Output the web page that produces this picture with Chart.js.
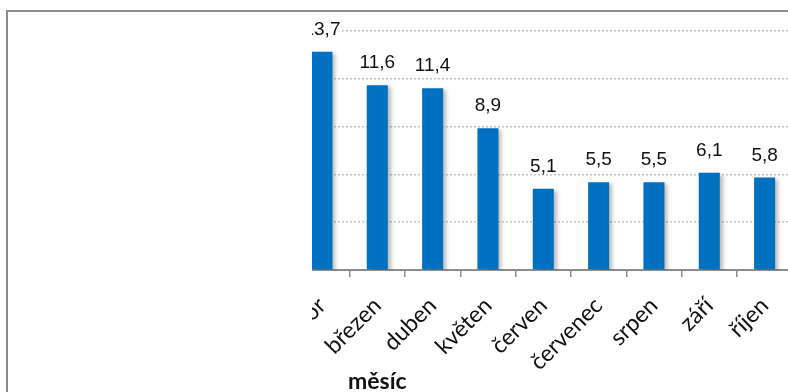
<!DOCTYPE html>
<html>
<head>
<meta charset="utf-8">
<script src="https://cdn.jsdelivr.net/npm/chart.js@4"></script>
<style>
  html, body { margin: 0; padding: 0; background: #fff; }
  body { width: 788px; height: 392px; overflow: hidden; position: relative; }
  #frame {
    position: absolute; left: 6px; top: 10px; width: 900px; height: 500px;
    border-left: 2px solid #8c8c8c; border-top: 2px solid #8c8c8c;
  }
  #clip { position: absolute; left: 312px; top: 12px; width: 476px; height: 380px; overflow: hidden; }
  #inner { position: absolute; top: 0; left: -18px; width: 700px; height: 380px; }
</style>
</head>
<body>
<div id="frame"></div>
<div id="clip"><div id="inner"><canvas id="chart" width="500" height="380"></canvas></div></div>
<script>
// months shown in the chart and their values
const months = ["únor", "březen", "duben", "květen", "červen", "červenec", "srpen", "září", "říjen"];
const values = [13.7, 11.6, 11.4, 8.9, 5.1, 5.5, 5.5, 6.1, 5.8];
const yTicks = [0, 3, 6, 9, 12, 15];
const axisTitle = "měsíc";

// soft shadow behind the bars, like the office chart
const barShadow = {
  id: "barShadow",
  beforeDatasetDraw(chart) {
    const ctx = chart.ctx;
    ctx.save();
    ctx.shadowColor = "rgba(0,0,0,0.28)";
    ctx.shadowBlur = 4;
    ctx.shadowOffsetX = 3;
    ctx.shadowOffsetY = 2;
  },
  afterDatasetDraw(chart) {
    chart.ctx.restore();
  }
};

// value labels above each bar, with decimal comma
const valueLabels = {
  id: "valueLabels",
  afterDatasetsDraw(chart) {
    const ctx = chart.ctx;
    const meta = chart.getDatasetMeta(0);
    ctx.save();
    ctx.font = "19px 'Liberation Sans', Arial, sans-serif";
    ctx.textAlign = "center";
    ctx.textBaseline = "alphabetic";
    meta.data.forEach((bar, i) => {
      const text = values[i].toFixed(1).replace(".", ",");
      const w = ctx.measureText(text).width;
      ctx.fillStyle = "#fff";
      ctx.fillRect(bar.x - w / 2 - 1, bar.y - 34, w + 2, 18);
      ctx.fillStyle = "#111";
      ctx.fillText(text, bar.x, bar.y - 17);
    });
    ctx.restore();
  }
};

// axis title, placed under the second category like in the original
const xTitle = {
  id: "xTitle",
  afterDraw(chart) {
    const ctx = chart.ctx;
    const x = chart.scales.x.getPixelForValue(1);
    ctx.save();
    ctx.font = "bold 23px Lato, 'Open Sans', sans-serif";
    ctx.fillStyle = "#111";
    ctx.textAlign = "center";
    ctx.textBaseline = "alphabetic";
    ctx.fillText(axisTitle, x, chart.height - 3);
    ctx.restore();
  }
};

function makeConfig(padBottom) {
  return {
    type: "bar",
    data: {
      labels: months,
      datasets: [{
        data: values,
        backgroundColor: "#0070c0",
        borderWidth: 0,
        barPercentage: 0.38,
        categoryPercentage: 1
      }]
    },
    options: {
      responsive: false,
      animation: false,
      layout: { padding: { top: 19, bottom: padBottom, left: 0, right: 0 } },
      plugins: { legend: { display: false }, tooltip: { enabled: false } },
      scales: {
        x: {
          offset: true,
          grid: {
            offset: true,
            drawOnChartArea: false,
            drawTicks: true,
            tickLength: 7,
            color: "#8c8c8c",
            lineWidth: 1.5
          },
          border: { display: true, color: "#8c8c8c", width: 2 },
          ticks: {
            autoSkip: false,
            minRotation: 45,
            maxRotation: 45,
            padding: 15,
            color: "#111",
            font: { family: "Lato, 'Open Sans', sans-serif", size: 23 }
          }
        },
        y: {
          min: yTicks[0],
          max: yTicks[yTicks.length - 1],
          afterBuildTicks(scale) {
            scale.ticks = yTicks.map(v => ({ value: v }));
          },
          ticks: { display: false },
          border: { display: false, dash: [2, 2] },
          grid: {
            drawTicks: false,
            color: ctx => ctx.tick.value === 0 ? "rgba(0,0,0,0)" : "#c4c4c4",
            lineWidth: 1.5
          }
        }
      }
    },
    plugins: [barShadow, valueLabels, xTitle]
  };
}

// first pass to measure, second pass sized so the plot area is 495px wide with bottom at 258
const canvas = document.getElementById("chart");
let chart = new Chart(canvas, makeConfig(20));
const a = chart.chartArea;
const padBottom = Math.max(0, 20 + a.bottom - 258);
const newWidth = Math.round(canvas.width + 495 - (a.right - a.left));
chart.destroy();
canvas.width = newWidth;
canvas.height = 380;
chart = new Chart(canvas, makeConfig(padBottom));
document.getElementById("inner").style.left = (-18 - chart.chartArea.left) + "px";
</script>
</body>
</html>
